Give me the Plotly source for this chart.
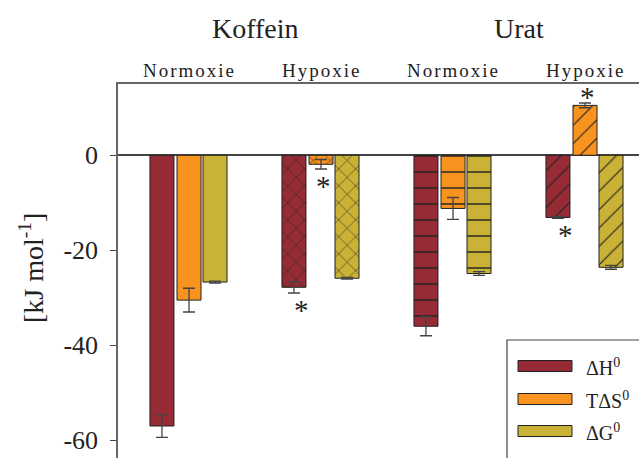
import plotly.graph_objects as go

# Groups (substance / condition) and the three thermodynamic quantities
substances = ["Koffein", "Urat"]
conditions = ["Normoxie", "Hypoxie", "Normoxie", "Hypoxie"]
series_names = ["ΔH<sup>0</sup>", "TΔS<sup>0</sup>", "ΔG<sup>0</sup>"]

dH = [-57.0, -27.8, -36.0, -13.1]
dH_err = [2.4, 1.2, 2.0, 0.2]
TdS = [-30.5, -1.9, -11.2, 10.5]
TdS_err = [2.5, 1.0, 2.3, 0.5]
dG = [-26.7, -25.9, -24.9, -23.6]
dG_err = [0.2, 0.2, 0.4, 0.4]

# fill pattern for each group
group_patterns = ["", "x", "-", "/"]
pattern_sizes = [10, 12, 16, 13]

# significant differences: (group index, series index)
significant = [(1, 0), (1, 1), (3, 0), (3, 1)]

y_tick_values = [0, -20, -40, -60]
y_tick_labels = ["0", "-20", "-40", "-60"]

colors = ["#962b35", "#f7931e", "#c9b236"]
values = [dH, TdS, dG]
errors = [dH_err, TdS_err, dG_err]

W, H = 639, 458
ML, MT = 118, 84
plot_w, plot_h = W - ML, H - MT

bar_w = 0.182
offsets = [-0.296, -0.091, 0.106]
x_range = [-0.538, 3.409]
y_range = [-63.74, 15]

serif = '"Liberation Serif", "Times New Roman", serif'
ink = "#222222"

fig = go.Figure()
x = list(range(len(conditions)))
for k in range(3):
    fig.add_trace(go.Bar(
        x=x, y=values[k], name=series_names[k],
        width=bar_w, offset=offsets[k],
        marker=dict(
            color=colors[k],
            line=dict(color=ink, width=1),
            pattern=dict(shape=group_patterns, size=pattern_sizes,
                         solidity=0.09, fgcolor=ink, bgcolor=colors[k],
                         fillmode="replace"),
        ),
        error_y=dict(type="data", array=errors[k], symmetric=True,
                     color="#444444", thickness=1.3, width=6),
        showlegend=False,
    ))

annotations = []
# significance asterisks just beyond each bar's error bar
for g, s in significant:
    v = values[s][g]
    e = errors[s][g]
    end = v + e if v > 0 else v - e
    annotations.append(dict(
        x=g + offsets[s] + bar_w / 2, y=end, xref="x", yref="y",
        text="*", showarrow=False, xshift=(8 if s == 0 else 2),
        yshift=(6 if v > 0 else -17),
        yanchor="middle",
        font=dict(family=serif, size=29, color=ink),
    ))

# substance headers above each pair of conditions
for i, name in enumerate(substances):
    annotations.append(dict(
        x=2 * i + 0.5, y=(H - 28) / plot_h, xref="x", yref="paper",
        text=name, showarrow=False, yanchor="middle",
        font=dict(family=serif, size=28, color=ink),
    ))
# condition labels
for i, name in enumerate(conditions):
    annotations.append(dict(
        x=i, y=(H - 70) / plot_h, xref="x", yref="paper",
        text=name, showarrow=False, yanchor="middle",
        font=dict(family=serif, size=19, color=ink),
    ))

# y-axis title
annotations.append(dict(
    x=(31 - ML) / plot_w, y=(H - 268) / plot_h, xref="paper", yref="paper",
    text="[kJ mol<sup>-1</sup>]", textangle=-90, showarrow=False,
    xanchor="center", yanchor="middle",
    font=dict(family=serif, size=28, color=ink),
))

# legend box with wide swatches
shapes = []
box_x0 = (507 - ML) / plot_w
box_y1 = (H - 340) / plot_h
shapes.append(dict(type="rect", xref="paper", yref="paper",
                   x0=box_x0, x1=1.05, y0=-0.05, y1=box_y1,
                   line=dict(color="#444444", width=1.2), fillcolor="white"))
legend_rows = [366, 399, 431]
for k, cy in enumerate(legend_rows):
    shapes.append(dict(type="rect", xref="paper", yref="paper",
                       x0=(518 - ML) / plot_w, x1=(572 - ML) / plot_w,
                       y0=(H - cy - 5.5) / plot_h, y1=(H - cy + 5.5) / plot_h,
                       line=dict(color=ink, width=1), fillcolor=colors[k]))
    annotations.append(dict(
        x=(584 - ML) / plot_w, y=(H - cy - 1) / plot_h, xref="paper", yref="paper",
        text=series_names[k], showarrow=False, xanchor="left", yanchor="middle",
        font=dict(family=serif, size=20, color=ink),
    ))

fig.update_layout(
    width=W, height=H,
    margin=dict(l=ML, r=0, t=MT, b=0, pad=0),
    paper_bgcolor="white", plot_bgcolor="white",
    barmode="overlay",
    annotations=annotations, shapes=shapes,
    xaxis=dict(range=x_range, side="top", showticklabels=False, ticks="",
               showgrid=False, zeroline=False, showline=True,
               linecolor="#666666", linewidth=1.5, fixedrange=True),
    yaxis=dict(range=y_range, tickvals=y_tick_values, ticktext=y_tick_labels,
               ticks="outside", ticklen=6, tickwidth=1.2, tickcolor="#444444",
               ticklabelstandoff=7,
               tickfont=dict(family=serif, size=26, color=ink),
               showgrid=False, showline=True, linecolor="#666666", linewidth=1.5,
               zeroline=True, zerolinecolor="#444444", zerolinewidth=1.5,
               fixedrange=True),
)

# the condition labels are set with a little extra letter spacing
spacing_js = """
var labels = %s;
document.querySelectorAll('.annotation-text').forEach(function (t) {
    if (labels.indexOf(t.textContent) >= 0) { t.style.letterSpacing = '2px'; }
});
""" % str(sorted(set(conditions)))

fig.write_html("out.html", post_script=spacing_js)
